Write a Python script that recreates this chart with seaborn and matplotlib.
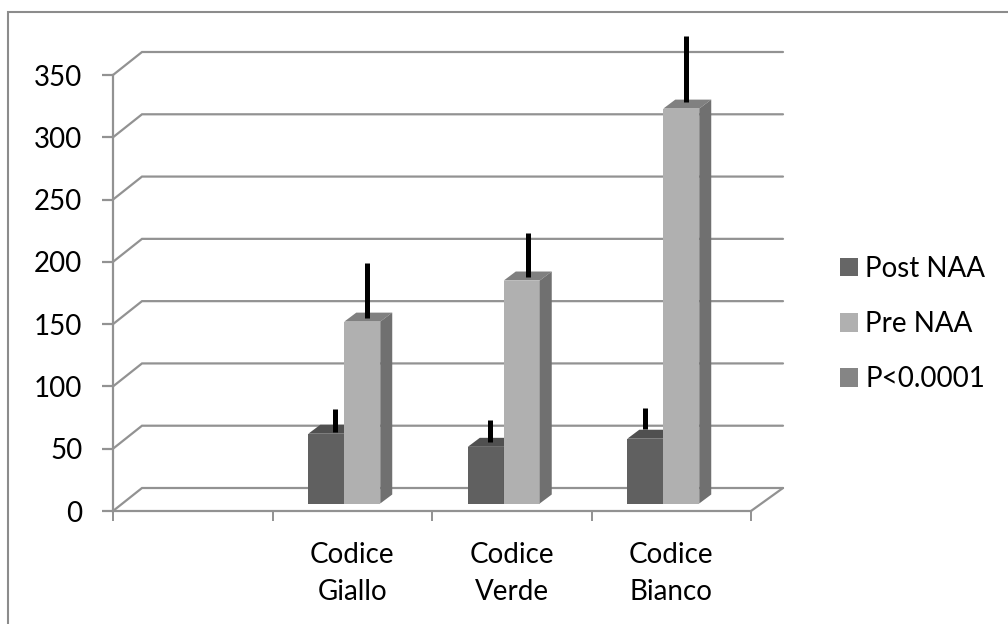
import matplotlib
matplotlib.use("Agg")
import pandas as pd
import seaborn as sns
from matplotlib import pyplot as plt
from matplotlib.lines import Line2D
from matplotlib.patches import Patch, Polygon

# values
categories = ["Codice\nGiallo", "Codice\nVerde", "Codice\nBianco"]
post_naa = [56, 45.5, 52]
pre_naa = [146, 179, 317]
post_err_low = [63.5, 55.5, 66]
post_err_high = [82, 73, 83]
pre_err_low = [155, 188, 328]
pre_err_high = [199, 223, 381]
y_ticks = [0, 50, 100, 150, 200, 250, 300, 350]
legend_labels = ["Post NAA", "Pre NAA", "P<0.0001"]

# the error bars are not centred the same way on every bar (pixels)
post_err_nudge = [8.5, 4.5, 0]
pre_err_nudge = [5, 6, 5]

GRID = "#929292"
DARK = "#606060"
DARK_TOP = "#505050"
LIGHT = "#b0b0b0"
LIGHT_TOP = "#808080"
LIGHT_SIDE = "#707070"
LEGEND_COLORS = ["#666666", "#b0b0b0", "#858585"]
FONT_SIZE = 20

W, H = 1008, 624
PX_LEFT, PX_RIGHT, PX_TOP, PX_BOTTOM = 113, 751, 75, 511
BAR_LIFT = 7.5

sns.set_style("white")
plt.rcParams["font.family"] = ["Lato", "DejaVu Sans"]
plt.rcParams["text.color"] = "black"
plt.rcParams["xtick.labelcolor"] = "black"
plt.rcParams["ytick.labelcolor"] = "black"

fig = plt.figure(figsize=(W / 100, H / 100), dpi=100)
# only the top and left edges of the frame are in the picture
fig.add_artist(Line2D([7.5 / W, 7.5 / W, 1], [0, 1 - 12 / H, 1 - 12 / H], transform=fig.transFigure,
                      color="#8c8c8c", lw=1.5, solid_joinstyle="miter"))

pos = [PX_LEFT / W, 1 - PX_BOTTOM / H, (PX_RIGHT - PX_LEFT) / W, (PX_BOTTOM - PX_TOP) / H]
ax = fig.add_axes(pos)
ax.set_xlim(-0.5, 3.5)
ax.set_ylim(0, 350)
px_x = 4 / (PX_RIGHT - PX_LEFT)
px_y = 350 / (PX_BOTTOM - PX_TOP)

# walls of the fake 3d box
wall_dx = 29 * px_x
wall_dy = 23 * px_y
for tick in y_ticks:
    ax.plot([-0.5, -0.5 + wall_dx, 3.5 + 32 * px_x], [tick, tick + wall_dy, tick + wall_dy],
            color=GRID, lw=1.6, clip_on=False, solid_joinstyle="miter")
ax.plot([3.5, 3.5 + 32 * px_x], [0, wall_dy], color=GRID, lw=1.6, clip_on=False)

for side in ["top", "right"]:
    ax.spines[side].set_visible(False)
for side in ["left", "bottom"]:
    ax.spines[side].set_color(GRID)
    ax.spines[side].set_linewidth(1.6)

ax.set_yticks(y_ticks)
ax.set_xticks([0, 1, 2, 3])
ax.set_xticklabels([""] + categories, linespacing=1.56)
ax.set_xticks([-0.5, 0.5, 1.5, 2.5, 3.5], minor=True)
ax.tick_params(axis="x", which="major", length=0, pad=22, labelsize=FONT_SIZE)
ax.tick_params(axis="x", which="minor", length=7, width=1.4, color=GRID, bottom=True)
ax.tick_params(axis="y", length=8, width=1.6, color=GRID, labelsize=FONT_SIZE, pad=14, left=True)

# bars sit a little above the axis line, on their own transparent axes
bar_pos = [pos[0], pos[1] + BAR_LIFT / H, pos[2], pos[3]]
bar_ax = fig.add_axes(bar_pos)
bar_ax.patch.set_alpha(0)

df = pd.DataFrame({
    "category": categories * 2,
    "series": ["Post NAA"] * 3 + ["Pre NAA"] * 3,
    "value": post_naa + pre_naa,
})
sns.barplot(data=df, x="category", y="value", hue="series", order=[""] + categories,
            hue_order=["Post NAA", "Pre NAA"], palette=[DARK, LIGHT], saturation=1,
            width=0.451, gap=0, errorbar=None, legend=False, linewidth=0, ax=bar_ax)
# bars stand 8px left of the slot centre
bar_ax.set_xlim(-0.45, 3.55)
bar_ax.set_ylim(0, 350)
bar_ax.axis("off")

depth_x = 12 * px_x
depth_y = 9 * px_y
bars = [b for b in bar_ax.patches if b.get_height() > 0]
dark_bars = sorted(bars[:3], key=lambda b: b.get_x())
light_bars = sorted(bars[3:], key=lambda b: b.get_x())


def add_depth(bar, top_color, side_color):
    x0 = bar.get_x()
    x1 = x0 + bar.get_width()
    top = bar.get_height()
    z = bar.get_zorder()
    bar_ax.add_patch(Polygon([(x0, top), (x1, top), (x1 + depth_x, top + depth_y), (x0 + depth_x, top + depth_y)],
                             closed=True, facecolor=top_color, edgecolor="none", zorder=z, clip_on=False))
    bar_ax.add_patch(Polygon([(x1, 0), (x1, top), (x1 + depth_x, top + depth_y), (x1 + depth_x, depth_y)],
                             closed=True, facecolor=side_color, edgecolor="none", zorder=z, clip_on=False))


for bar in dark_bars:
    add_depth(bar, DARK_TOP, DARK_TOP)
for bar in light_bars:
    bar.set_zorder(3)
    add_depth(bar, LIGHT_TOP, LIGHT_SIDE)

lift = BAR_LIFT * px_y
for group, lows, highs, nudges in [(dark_bars, post_err_low, post_err_high, post_err_nudge),
                                   (light_bars, pre_err_low, pre_err_high, pre_err_nudge)]:
    for bar, low, high, nudge in zip(group, lows, highs, nudges):
        err = bar_ax.errorbar(bar.get_x() + bar.get_width() / 2 + nudge * px_x, low - lift,
                              yerr=[[0], [high - low]], ecolor="black", elinewidth=3.6,
                              capsize=0, fmt="none", zorder=5)
        for coll in err.lines[2]:
            coll.set_clip_on(False)

handles = [Patch(facecolor=c, edgecolor="none") for c in LEGEND_COLORS]
fig.legend(handles, legend_labels, loc="center left", bbox_to_anchor=(829 / W, 1 - 324 / H),
           frameon=False, fontsize=FONT_SIZE, handlelength=0.65, handleheight=0.65,
           handletextpad=0.25, labelspacing=1.05, borderpad=0.4, borderaxespad=0)

fig.savefig("out.png", dpi=100)
